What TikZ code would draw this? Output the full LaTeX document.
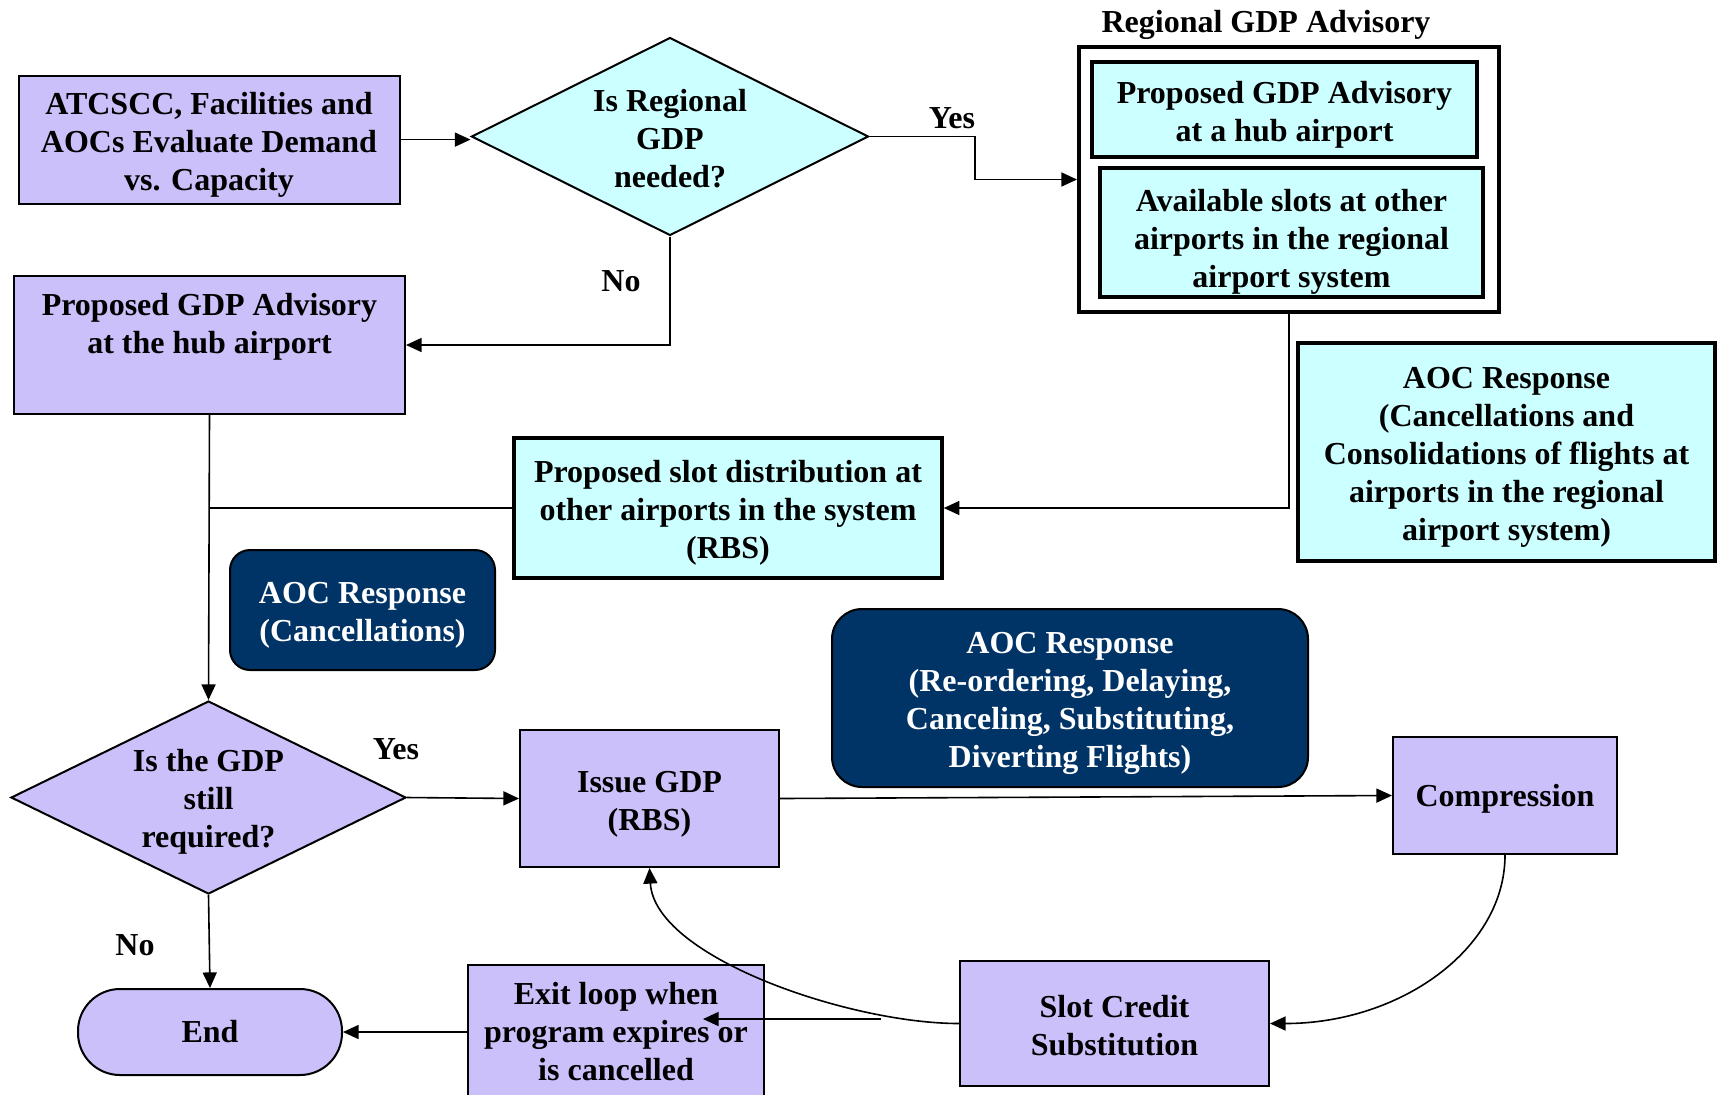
\documentclass[tikz,border=0pt]{standalone}
\usepackage{fontspec}
\setmainfont{Liberation Serif}
\usetikzlibrary{shapes.geometric,arrows.meta}
\definecolor{lav}{RGB}{204,192,250}
\definecolor{cyn}{RGB}{204,255,255}
\definecolor{navy}{RGB}{0,51,102}
\newcommand\tup{\rule{0pt}{16pt}}
\begin{document}
\begin{tikzpicture}[x=0.5pt,y=-0.5pt,
 every node/.style={font=\bfseries\fontsize{16}{19}\selectfont, align=center, inner sep=0pt},
 lbox/.style={draw, line width=1pt, fill=lav, rectangle},
 cbox/.style={draw, line width=1.8pt, fill=cyn, rectangle},
 nbox/.style={draw, line width=1pt, fill=navy, text=white, rectangle},
 dia/.style={draw, line width=1pt, diamond},
 arr/.style={line width=0.8pt, -{Triangle[length=7.8pt,width=7pt]}},
 ln/.style={line width=0.8pt}]
\useasboundingbox (0,0) rectangle (1717,1094);
\fill[white] (0,0) rectangle (1717,1094);

% top row
\node[lbox, minimum width=190.5pt, minimum height=64pt] (A) at (209,139.6)
  {\tup ATCSCC, Facilities and\\AOCs Evaluate Demand\\vs. Capacity};
\node[dia, fill=cyn, minimum width=198.5pt, minimum height=99pt] (D1) at (670,136.5) {};
\node (D1t) at (670,139) {Is Regional\\GDP\\needed?};

\node (title) at (1266,25) {Regional GDP Advisory};
\node[draw, line width=2pt, fill=white, minimum width=210pt, minimum height=132.5pt] (outer) at (1289,179.5) {};
\node[cbox, minimum width=192.5pt, minimum height=47.5pt] (in1) at (1284.5,109.5)
  {\tup Proposed GDP Advisory\\at a hub airport};
\node[cbox, minimum width=191.5pt, minimum height=64.5pt] (in2) at (1291.5,232.5)
  {\rule{0pt}{20pt}Available slots at other\\airports in the regional\\airport system};

\node[lbox, minimum width=195.5pt, minimum height=69pt] (hub) at (209.5,345) {};
\node (hubt) at (209.5,326.5) {Proposed GDP Advisory\\at the hub airport};

\node[cbox, minimum width=214pt, minimum height=70pt] (RBS) at (728,508)
  {\tup Proposed slot distribution at\\other airports in the system\\(RBS)};
\node[cbox, minimum width=208.5pt, minimum height=109pt] (AOC1) at (1506.5,452)
  {\tup AOC Response\\(Cancellations and\\Consolidations of flights at\\airports in the regional\\airport system)};

\node[nbox, rounded corners=10pt, minimum width=132.5pt, minimum height=60pt] (AOC2) at (362.5,610)
  {\tup AOC Response\\(Cancellations)};
\node[nbox, rounded corners=15pt, minimum width=238pt, minimum height=89pt] (AOC3) at (1070,698)
  {\tup AOC Response\\(Re-ordering, Delaying,\\Canceling, Substituting,\\Diverting Flights)};

\node[dia, fill=lav, minimum width=197.5pt, minimum height=96.5pt] (D2) at (208.5,797.5) {};
\node (D2t) at (208.5,802) {Is the GDP\\still\\required?};

\node[lbox, minimum width=129.5pt, minimum height=68.5pt] (issue) at (649.5,798.5)
  {\tup Issue GDP\\(RBS)};
\node[lbox, minimum width=112pt, minimum height=58.5pt] (comp) at (1505,795.5)
  {\rule{0pt}{14pt}Compression};
\node[lbox, minimum width=154.5pt, minimum height=62.5pt] (slot) at (1114.5,1023.5)
  {\rule{0pt}{13pt}Slot Credit\\Substitution};
\node[lbox, minimum width=148pt, minimum height=67pt] (exit) at (616,1032)
  {Exit loop when\\program expires or\\is cancelled};
\node[lbox, rounded corners=21pt, minimum width=132pt, minimum height=43pt] (end) at (210,1032) {End};

% labels
\node (yes1) at (952,118) {Yes};
\node (no1) at (621,281) {No};
\node (yes2) at (396,749) {Yes};
\node (no2) at (135,945) {No};

% connectors
\draw[arr] (A.east) -- (A.east -| D1.west);
\draw[arr] (D1.east) -- ++(105.5,0) |- (outer.west);
\draw[arr] (D1.south) |- (hub.east);
\draw[arr] (hub.south) -- (D2.north);
\draw[arr] (outer.south) |- (RBS.east);
\draw[ln] (RBS.west) -- (RBS.west -| hub.south);
\draw[arr] (D2.east) -- (issue.west);
\draw[arr] (issue.east) -- (comp.west);
\draw[arr] (comp.south) .. controls +(0,94) and +(130,0) .. (slot.east);
\draw[arr] (slot.west) .. controls +(-110,0) and +(5,89) .. (issue.south);
\coordinate (lp1) at (881,1019);
\coordinate (lp2) at (703,1019);
\draw[arr] (lp1) -- (lp2);
\draw[arr] (exit.west) -- (end.east);
\draw[arr] (D2.south) -- (end.north);
\end{tikzpicture}
\end{document}
